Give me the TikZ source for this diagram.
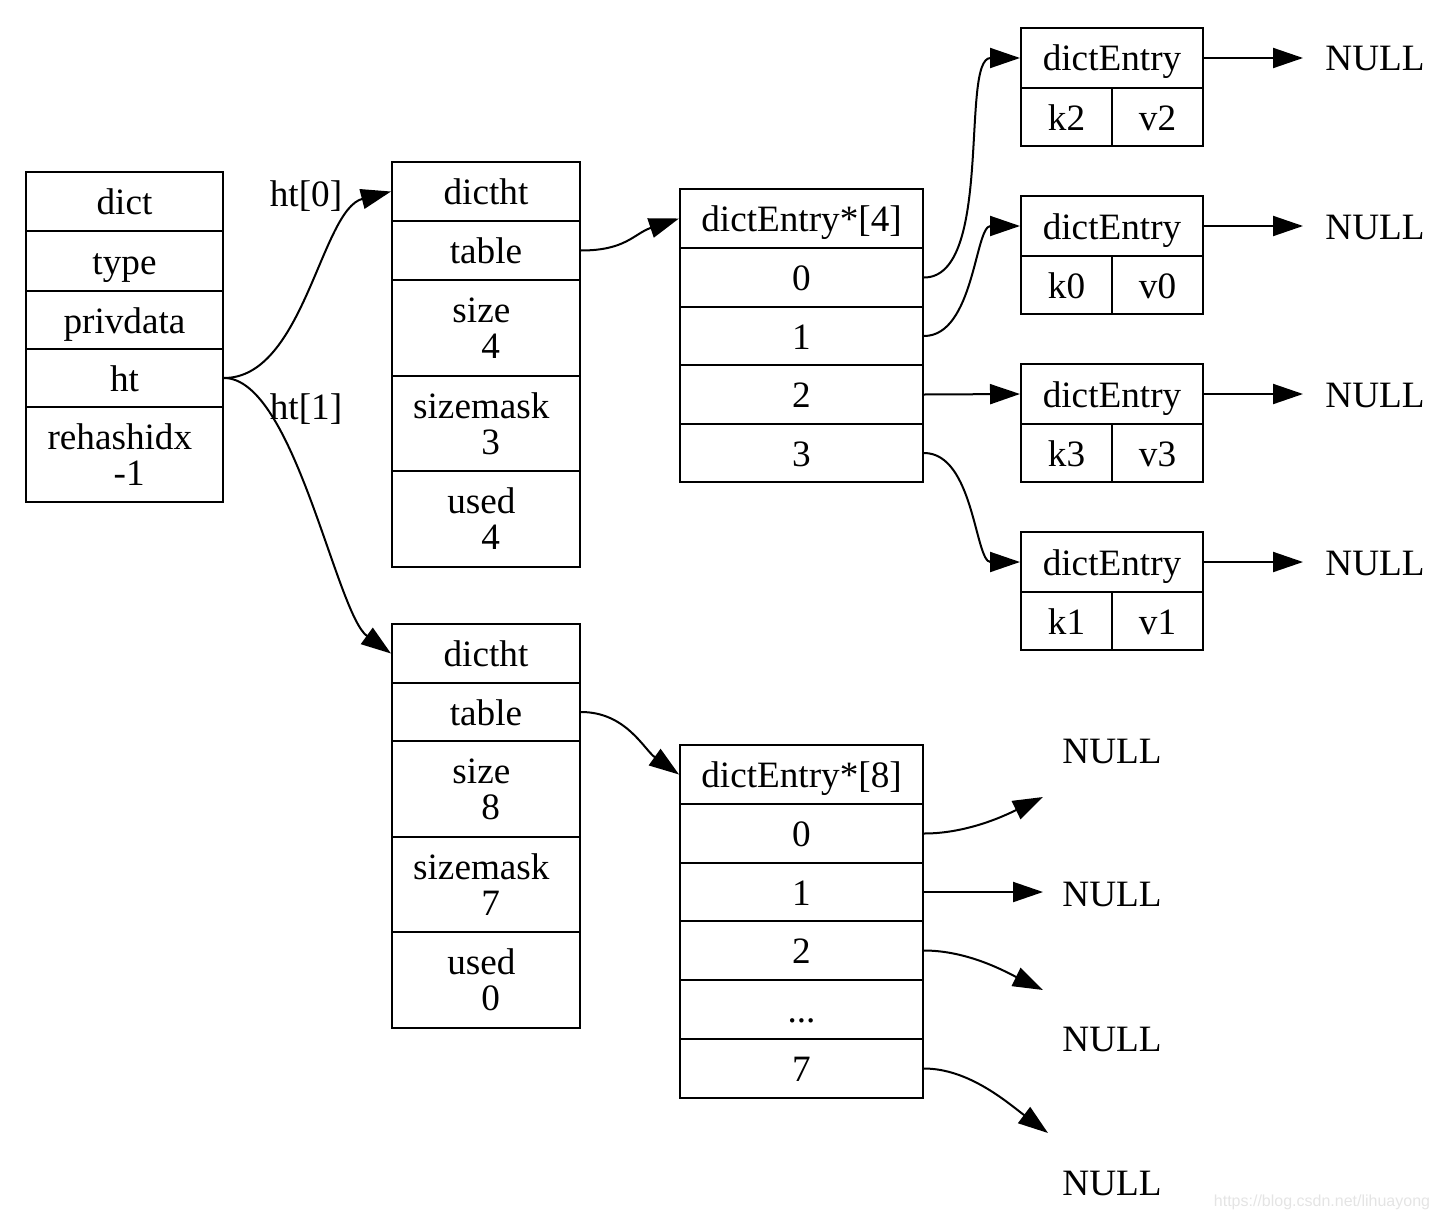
\documentclass[tikz,border=0pt]{standalone}
\usepackage{fontspec}
\setmainfont{Liberation Serif}
\newfontfamily\wmfont{Liberation Sans}
\usetikzlibrary{arrows.meta}
\definecolor{wm}{RGB}{228,228,228}
\begin{document}
\begin{tikzpicture}[x=0.5pt,y=-0.5pt,
  font=\fontsize{18.6}{18}\selectfont,
  cell/.style={draw,line width=1pt,inner sep=0pt,align=center},
  one/.style={text height=13pt,text depth=0pt},
  wA/.style={minimum width=98.5pt},
  wB/.style={minimum width=94pt},
  wC/.style={minimum width=121.5pt},
  wD/.style={minimum width=91pt},
  wE/.style={minimum width=45.5pt},
  h/.style={minimum height=#1*0.5pt},
  nulltxt/.style={inner xsep=11pt,inner ysep=0pt,anchor=west,text height=13pt,text depth=0pt},
  link/.style={line width=1pt,-{Triangle[length=15pt,width=10pt]}},
  lbl/.style={inner sep=0pt,text height=13pt,text depth=0pt}]
\useasboundingbox (0,0) rectangle (1438,1220);
% dict
\node[cell,one,wA,h=59] (d0) at (124.5,201.5) {dict};
\node[cell,one,wA,h=60] (d1) at (124.5,261) {type};
\node[cell,one,wA,h=58] (d2) at (124.5,320) {privdata};
\node[cell,one,wA,h=58] (d3) at (124.5,378) {ht};
\node[cell,wA,h=95] (d4) at (124.5,454.5) {rehashidx\kern.25em\\\kern.25em-1};
% dictht 0
\node[cell,one,wB,h=59] (a0) at (486,191.5) {dictht};
\node[cell,one,wB,h=59] (a1) at (486,250.5) {table};
\node[cell,wB,h=96] (a2) at (486,328) {size\kern.25em\\\kern.25em4};
\node[cell,wB,h=95] (a3) at (486,423.5) {sizemask\kern.25em\\\kern.25em3};
\node[cell,wB,h=96] (a4) at (486,519) {used\kern.25em\\\kern.25em4};
% dictht 1
\node[cell,one,wB,h=59] (b0) at (486,653.5) {dictht};
\node[cell,one,wB,h=58] (b1) at (486,712) {table};
\node[cell,wB,h=96] (b2) at (486,789) {size\kern.25em\\\kern.25em8};
\node[cell,wB,h=95] (b3) at (486,884.5) {sizemask\kern.25em\\\kern.25em7};
\node[cell,wB,h=96] (b4) at (486,980) {used\kern.25em\\\kern.25em0};
% dictEntry*[4]
\node[cell,one,wC,h=59] (t0) at (801.5,218.5) {dictEntry*[4]};
\node[cell,one,wC,h=59] (t1) at (801.5,277.5) {0};
\node[cell,one,wC,h=58] (t2) at (801.5,336) {1};
\node[cell,one,wC,h=59] (t3) at (801.5,394.5) {2};
\node[cell,one,wC,h=58] (t4) at (801.5,453) {3};
% dictEntry*[8]
\node[cell,one,wC,h=59] (u0) at (801.5,774.5) {dictEntry*[8]};
\node[cell,one,wC,h=59] (u1) at (801.5,833.5) {0};
\node[cell,one,wC,h=58] (u2) at (801.5,892) {1};
\node[cell,one,wC,h=59] (u3) at (801.5,950.5) {2};
\node[cell,one,wC,h=59] (u4) at (801.5,1009.5) {...};
\node[cell,one,wC,h=59] (u5) at (801.5,1068.5) {7};
% dictEntry boxes
\foreach \n/\t/\k/\v in {e2/28/k2/v2, e0/196/k0/v0, e3/364/k3/v3, e1/532/k1/v1}{
  \node[cell,one,wD,h=60] (\n h) at (1112,\t+30) {dictEntry};
  \node[cell,one,wE,h=58] (\n k) at (1066.5,\t+89) {\k};
  \node[cell,one,wE,h=58] (\n v) at (1157.5,\t+89) {\v};
  \node[nulltxt] (\n n) at (1303,\t+30) {NULL};
  \draw[link] (\n h.east) -- (\n n.west);
}
% bottom NULLs
\node[lbl] (n0) at (1112,750) {NULL};
\node[lbl] (n1) at (1112,893) {NULL};
\node[lbl] (n2) at (1112,1038) {NULL};
\node[lbl] (n3) at (1112,1182) {NULL};
\coordinate (c0) at (1043,797);
\coordinate (c1) at (1043,892);
\coordinate (c2) at (1043,990);
\coordinate (c3) at (1048,1133);
% labels
\node[lbl] (l0) at (306,193) {ht[0]};
\node[lbl] (l1) at (306,406) {ht[1]};
% edges
\draw[link] (d3.east) .. controls +(80,0) and +(-70,18) .. (a0.west);
\draw[link] (d3.east) .. controls +(70,0) and +(-55,-40) .. (b0.west);
\draw[link] (a1.east) .. controls +(45,0) and +(-45,15) .. (t0.west);
\draw[link] (b1.east) .. controls +(45,0) and +(-35,-25) .. (u0.west);
\draw[link] (t1.east) .. controls +(70,0) and +(-60,0) .. (e2h.west);
\draw[link] (t2.east) .. controls +(50,0) and +(-45,0) .. (e0h.west);
\draw[link] (t3.east) -- (e3h.west);
\draw[link] (t4.east) .. controls +(50,0) and +(-45,0) .. (e1h.west);
\draw[link] (u1.east) .. controls +(45,0) and +(-35,17) .. (c0);
\draw[link] (u2.east) -- (c1);
\draw[link] (u3.east) .. controls +(45,0) and +(-35,-17) .. (c2);
\draw[link] (u5.east) .. controls +(45,0) and +(-40,-30) .. (c3);
% watermark
\node[inner sep=0pt,text=wm,font=\wmfont\fontsize{8}{9}\selectfont] (wmk) at (1322,1202) {https://blog.csdn.net/lihuayong};
\end{tikzpicture}
\end{document}
